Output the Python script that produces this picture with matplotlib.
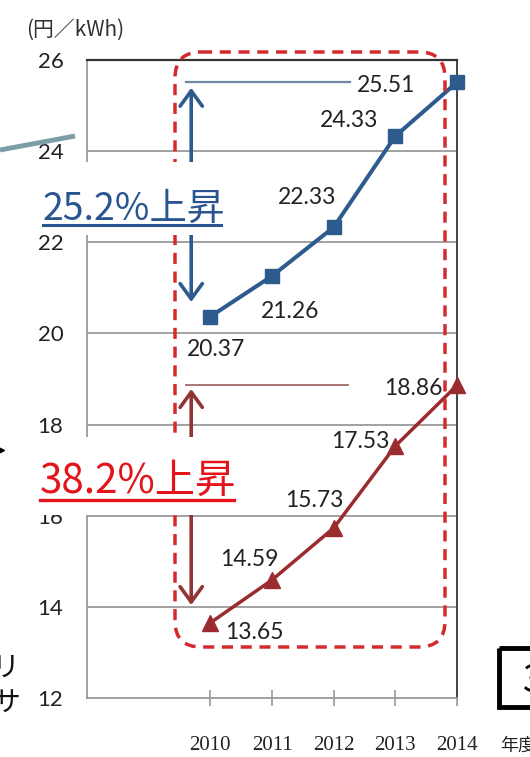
import matplotlib
matplotlib.use("Agg")
import matplotlib.pyplot as plt
from matplotlib.patches import FancyBboxPatch, Rectangle

# ---- data -------------------------------------------------------------
years = [2010, 2011, 2012, 2013, 2014]
price_household = [20.37, 21.26, 22.33, 24.33, 25.51]   # blue series (円/kWh)
price_industry = [13.65, 14.59, 15.73, 17.53, 18.86]    # red series (円/kWh)
y_ticks = [12, 14, 16, 18, 20, 22, 24, 26]
y_unit = "(円／kWh)"
x_unit = "年度"

# ---- styles -----------------------------------------------------------
NUM = ["Lato", "DejaVu Sans"]
JP = ["Noto Sans CJK JP", "DejaVu Sans"]
BIG = ["Noto Sans CJK JP", "DejaVu Sans"]
BLUE = "#2d5b8e"
BLUE_TXT = "#2a5590"
DARKRED = "#9a2c2f"
RED_TXT = "#e3141c"
DASH_RED = "#d42a2e"
GRID = "#9a9a9a"

# label offsets (pixels) for each point's value
off_household = [(6, -33), (18, -35), (-27, 30), (-46, 16), (-71, -3)]
off_industry = [(44, -10), (-23, 20), (-19, 28), (-35, 4), (-44, -3)]

W, H = 530, 757
fig = plt.figure(figsize=(W / 100, H / 100), dpi=100)
fig.patch.set_facecolor("white")

ax = fig.add_axes([87 / W, 59 / H, 370 / W, 638 / H])
ax.set_xlim(2008, 2014)
ax.set_ylim(12, 26)

# grid and frame
for v in y_ticks[1:-1]:
    ax.axhline(v, color=GRID, lw=1.3, zorder=1)
ax.spines["top"].set_color("#333333")
ax.spines["top"].set_linewidth(1.6)
ax.spines["right"].set_color("#444444")
ax.spines["right"].set_linewidth(1.4)
ax.spines["left"].set_color(GRID)
ax.spines["left"].set_linewidth(1.3)
ax.spines["bottom"].set_color(GRID)
ax.spines["bottom"].set_linewidth(1.3)

ax.set_yticks(y_ticks)
ax.set_yticklabels([str(v) for v in y_ticks], family=NUM, fontsize=16, color="#222222")
ax.tick_params(axis="y", length=0, pad=17)
ax.set_xticks(years)
ax.set_xticklabels([str(y) for y in years], family=["Liberation Serif", "DejaVu Serif"],
                   fontsize=15, color="#222222")
ax.tick_params(axis="x", direction="inout", length=12, width=1.2, color=GRID, pad=21)

# series
ax.plot(years, price_household, color=BLUE, lw=2.9, marker="s", ms=10,
        mfc=BLUE, mec=BLUE, zorder=5, clip_on=False)
ax.plot(years, price_industry, color=DARKRED, lw=2.5, marker="^", ms=11,
        mfc=DARKRED, mec=DARKRED, zorder=5, clip_on=False)

for x, v, (dx, dy) in zip(years, price_household, off_household):
    ax.annotate(f"{v:.2f}", (x, v), xytext=(dx, dy), textcoords="offset pixels",
                ha="center", va="center", family=NUM, fontsize=16.5, color="#222222",
                zorder=6)
for x, v, (dx, dy) in zip(years, price_industry, off_industry):
    ax.annotate(f"{v:.2f}", (x, v), xytext=(dx, dy), textcoords="offset pixels",
                ha="center", va="center", family=NUM, fontsize=16.5, color="#222222",
                zorder=6)

# reference levels at the latest values
x_arrow = 2009.69
ax.plot([2009.61, 2012.27], [price_household[-1]] * 2, color="#6f87a0", lw=1.6, zorder=3)
ax.plot([2009.61, 2012.24], [price_industry[-1]] * 2, color="#aa7474", lw=1.4, zorder=3)

# double-headed span arrows (split by the percentage labels)
arrow_kw = dict(arrowstyle="->,head_length=0.55,head_width=0.4", mutation_scale=20,
                shrinkA=0, shrinkB=0)
ax.annotate("", xy=(x_arrow, price_household[-1] - 0.12), xytext=(x_arrow, 23.0),
            arrowprops=dict(color=BLUE, lw=2.6, **arrow_kw), zorder=4)
ax.annotate("", xy=(x_arrow, price_household[0] + 0.32), xytext=(x_arrow, 23.0),
            arrowprops=dict(color=BLUE, lw=2.6, **arrow_kw), zorder=4)
ax.annotate("", xy=(x_arrow, price_industry[-1] - 0.08), xytext=(x_arrow, 17.0),
            arrowprops=dict(color="#8f3535", lw=2.6, **arrow_kw), zorder=4)
ax.annotate("", xy=(x_arrow, price_industry[0] + 0.39), xytext=(x_arrow, 17.0),
            arrowprops=dict(color="#8f3535", lw=2.6, **arrow_kw), zorder=4)

# ---- overlay in pixel units for the callouts ---------------------------
ov = fig.add_axes([0, 0, 1, 1])
ov.set_xlim(0, W)
ov.set_ylim(H, 0)
ov.axis("off")
ov.patch.set_visible(False)

# dashed rounded highlight frame
ov.add_patch(FancyBboxPatch((175, 52), 270, 595,
                            boxstyle="round,pad=0,rounding_size=26",
                            fill=False, edgecolor=DASH_RED, lw=2.5,
                            linestyle=(0, (3.2, 2.2)), zorder=2))

rise_household = (price_household[-1] / price_household[0] - 1) * 100
rise_industry = (price_industry[-1] / price_industry[0] - 1) * 100

# blue percentage label
ov.add_patch(Rectangle((36, 162), 194, 73, facecolor="white", edgecolor="none", zorder=5))
ov.text(43, 220, f"{rise_household:.1f}%上昇", family=BIG, fontsize=27,
        color=BLUE_TXT, ha="left", va="baseline", zorder=6)
ov.plot([43, 221], [225, 225], color=BLUE_TXT, lw=2.2, zorder=6)

# red percentage label
ov.add_patch(Rectangle((33, 437), 210, 78, facecolor="white", edgecolor="none", zorder=5))
ov.text(40, 493, f"{rise_industry:.1f}%上昇", family=BIG, fontsize=29,
        color=RED_TXT, ha="left", va="baseline", zorder=6)
ov.plot([40, 234], [500, 500], color=RED_TXT, lw=2.4, zorder=6)

# unit labels
ov.text(75, 30, y_unit, family=JP, fontsize=15, color="#333333",
        ha="center", va="center")
ov.text(500, 746, x_unit, family=JP, fontsize=13, color="#222222",
        ha="left", va="center")

# neighbouring slide elements at the edges
ov.plot([0, 75], [150, 136], color="#7b9ea6", lw=3.5, solid_capstyle="butt")
ov.plot([1], [450], marker=">", ms=4, color="black")
ov.text(-8, 668, "リ", family=JP, fontsize=20, color="#111111", ha="left", va="center")
ov.text(-8, 703, "サ", family=JP, fontsize=20, color="#111111", ha="left", va="center")
ov.add_patch(Rectangle((499, 648), 60, 59, fill=False, edgecolor="black", lw=3.5,
                       clip_on=False))
ov.text(523, 681, "3", family=JP, fontsize=27, color="black", ha="left", va="center")

fig.savefig("out.png", dpi=100)
